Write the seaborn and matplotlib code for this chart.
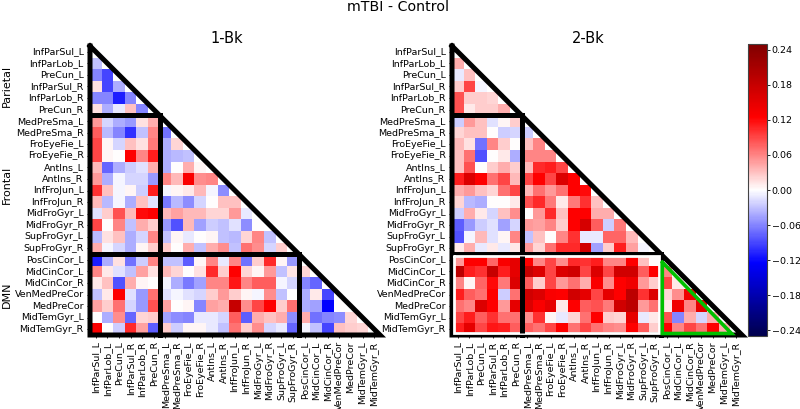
import numpy as np
import pandas as pd
import seaborn as sns
import matplotlib.pyplot as plt

# ROI names, in plotting order
labels = ['InfParSul_L', 'InfParLob_L', 'PreCun_L', 'InfParSul_R', 'InfParLob_R', 'PreCun_R',
          'MedPreSma_L', 'MedPreSma_R', 'FroEyeFie_L', 'FroEyeFie_R', 'AntIns_L', 'AntIns_R',
          'InfFroJun_L', 'InfFroJun_R', 'MidFroGyr_L', 'MidFroGyr_R', 'SupFroGyr_L', 'SupFroGyr_R',
          'PosCinCor_L', 'MidCinCor_L', 'MidCinCor_R', 'VenMedPreCor', 'MedPreCor', 'MidTemGyr_L', 'MidTemGyr_R']
networks = ['Parietal', 'Frontal', 'DMN']
network_sizes = [6, 12, 7]
cbar_ticks = [-0.24, -0.18, -0.12, -0.06, 0.0, 0.06, 0.12, 0.18, 0.24]

# lower triangle values (row 1 onwards)
bk1_rows = [
    [-.03],
    [-.06, -.09],
    [.015, -.09, -.04],
    [-.06, -.06, -.11, -.06],
    [.015, -.04, -.01, .03, -.06],
    [.05, -.02, -.04, -.05, .015, .04],
    [.08, -.035, -.06, -.10, -.03, .06, -.07],
    [.09, .005, -.02, .03, .015, .065, -.04, .02],
    [.09, .005, 0, .125, .06, .11, -.04, -.035, -.03],
    [.035, -.075, -.04, -.025, -.015, .04, -.04, 0, .04, .005],
    [.05, -.04, -.005, -.02, -.02, -.05, .06, .035, .13, .055, .06],
    [.10, .03, -.005, .005, -.025, .11, -.005, .005, .01, .035, -.005, -.055],
    [.035, -.035, -.005, -.04, .03, -.015, -.065, -.035, -.055, -.02, 0, .03, .03],
    [-.015, .025, .085, .035, .12, .125, .035, .045, .035, .035, .02, .02, .05, -.01],
    [.09, 0, .06, -.03, .04, .025, -.05, -.085, .035, -.045, -.025, -.03, -.015, -.055, 0],
    [-.035, .015, .03, -.04, -.02, .06, -.03, .005, -.01, 0, .005, -.03, -.035, .02, .06, -.03],
    [.04, -.005, -.02, -.04, .005, .025, .025, 0, .04, -.03, .04, .055, -.03, .07, .055, -.02, .025],
    [-.11, -.04, .015, -.07, -.025, .06, -.03, -.03, -.08, .005, .06, -.01, .06, -.07, .025, .105, .005, -.05],
    [.06, .01, -.015, -.03, .045, .015, .035, .02, 0, .015, .105, .025, .125, .02, .005, .05, -.03, .012, .02],
    [.01, .03, -.085, .04, .005, 0, -.005, -.04, -.065, -.045, .06, .06, .115, .06, .08, .08, -.005, -.02, -.06, -.075],
    [-.03, .01, .125, -.015, -.05, .07, -.015, -.005, -.015, -.02, .025, .05, .025, .005, -.005, .055, -.03, 0, -.04, .01, -.09],
    [.045, .025, .07, -.02, -.05, .085, .045, 0, .005, -.06, .045, .04, .18, .055, .09, .125, .025, .07, -.04, -.045, -.125, 0],
    [0, -.04, .055, -.075, .02, .025, -.045, -.055, -.06, -.01, -.01, -.02, .08, -.08, .04, .03, .04, -.055, .04, -.07, -.06, -.055, .02],
    [.13, 0, -.025, .105, .045, -.08, .025, -.025, .005, .005, -.01, -.03, .07, .025, .055, -.02, -.01, -.075, -.005, -.03, -.09, .03, .025, .02],
]

bk2_rows = [
    [.04],
    [-.01, .03],
    [.025, .09, -.005],
    [.085, .025, .025, .02],
    [.085, .01, .025, .025, .04],
    [-.025, .05, .03, -.015, .005, .025],
    [.02, .03, .03, 0, -.025, -.02, -.025],
    [.035, .015, -.07, .06, .025, 0, .03, .06],
    [.03, .07, -.085, 0, .01, -.04, .06, .06, .06],
    [.03, .085, 0, .025, .04, .025, .035, .105, .11, .09],
    [.11, .16, .125, .07, .09, .035, .09, .125, .09, .16, .125],
    [.04, .05, .03, .02, .07, .09, .035, .07, .05, .07, .125, .12],
    [.02, -.035, -.04, 0, 0, .01, .085, .105, .065, .01, .065, .10, .03],
    [-.025, .04, .01, -.02, .03, .055, 0, .05, .105, .03, .125, .125, .04, .04],
    [-.08, -.05, -.025, -.015, -.045, -.02, .05, .045, .06, .025, .125, .165, .08, -.025, .065],
    [-.085, -.005, .035, -.015, .005, .06, -.03, .03, 0, .06, .10, -.01, -.01, .075, .075, .035],
    [.01, .04, -.01, .01, -.01, .01, .05, .02, .07, .105, .105, .17, -.045, .025, .11, .045, -.005],
    [.05, .125, .125, .075, .13, .15, .125, .06, .09, .055, .105, .10, .11, .06, .06, .125, .03, 0],
    [.19, .11, .10, .18, .11, .15, .18, .16, .09, .16, .17, .09, .16, .09, .17, .17, .08, .125, .06],
    [.06, .005, .075, .12, .065, .16, .08, .025, .09, .05, .07, .04, .13, .055, .125, .14, .05, .025, .09, .01],
    [.11, .08, .07, .125, -.025, .07, .17, .16, .13, .125, .17, .15, .09, .15, .125, .19, .10, .16, .02, .055, .14],
    [.07, .06, .16, .125, .05, .15, .16, .13, .15, .01, .125, .08, .085, .065, .17, .19, .05, .07, .01, .14, .06, .15],
    [.09, .11, .08, .10, .07, .07, .055, .10, .005, -.01, .02, .07, .125, .025, .02, .15, -.01, .01, .085, -.06, .04, -.02, .04],
    [.11, .15, .09, .115, .11, .08, .08, .07, .09, .125, .07, .09, .07, .06, .055, .125, .08, .025, .125, .06, .09, .07, .125, .04],
]


def to_frame(rows):
    mat = np.full((len(labels), len(labels)), np.nan)
    for i, row in enumerate(rows):
        mat[i + 1, :len(row)] = row
    return pd.DataFrame(mat, index=labels, columns=labels)


sns.set_style('ticks', {'text.color': 'black', 'xtick.color': 'black', 'ytick.color': 'black'})
plt.rcParams['font.family'] = ['DejaVu Sans']

W, H = 800, 409
fig = plt.figure(figsize=(W / 100, H / 100), dpi=100)


def px_axes(x0, y0, x1, y1):
    return fig.add_axes([x0 / W, 1 - y1 / H, (x1 - x0) / W, (y1 - y0) / H])


ax1 = px_axes(90, 46, 380, 335)
ax2 = px_axes(452, 46, 742, 335)
cax = px_axes(748, 44, 767, 336)

LW = 3.6
edges = np.cumsum([0] + network_sizes)


def draw_sections(ax):
    n = edges[-1]
    kw = dict(color='black', lw=LW, clip_on=False, solid_capstyle='projecting', solid_joinstyle='miter', zorder=5)
    # outer triangle
    ax.plot([0, 0, n, 0], [0, n, n, 0], **kw)
    # lines splitting the networks
    for e in edges[1:-1]:
        ax.plot([0, e], [e, e], **kw)
        ax.plot([e, e], [e, n], **kw)


for ax, rows, name in [(ax1, bk1_rows, '1-Bk'), (ax2, bk2_rows, '2-Bk')]:
    sns.heatmap(to_frame(rows), ax=ax, cmap='seismic', vmin=-0.25, vmax=0.25, center=0,
                cbar=ax is ax2, cbar_ax=cax if ax is ax2 else None,
                xticklabels=True, yticklabels=True)
    ax.tick_params(axis='both', labelsize=6.8, length=2, width=0.6, pad=2.5)
    ax.tick_params(axis='x', labelrotation=90)
    ax.tick_params(axis='y', labelrotation=0)
    draw_sections(ax)
    ax.set_title(name, fontsize=10.5, x=0.47, y=1.0, pad=2)

# 2-Bk highlights: white box on DMN vs rest, green box inside DMN
d0, d1 = edges[2], edges[3]
inset = 0.13
ax2.plot([inset, d0 - inset, d0 - inset, inset, inset],
         [d0 + inset, d0 + inset, d1 - inset, d1 - inset, d0 + inset],
         color='white', lw=2.0, zorder=6, clip_on=False, solid_joinstyle='miter')
ax2.plot([edges[1], edges[1]], [d0 + inset, d1 - inset], color='black', lw=LW, zorder=7, solid_capstyle='butt')
ax2.plot([d0 + inset, d0 + inset, d1 - 0.9, d0 + inset], [d0 + 0.7, d1 - inset, d1 - inset, d0 + 0.7],
         color='#00c000', lw=2.6, zorder=6, clip_on=False, solid_joinstyle='miter')

# network names down the left side
label_rows = [3.45, 12, 21.5]
for name, m in zip(networks, label_rows):
    ax1.annotate(name, xy=(0, m), xycoords=('figure pixels', 'data'), xytext=(7, 0), textcoords='offset pixels',
                 rotation=90, ha='center', va='center', fontsize=8)

cbar = ax2.collections[0].colorbar
cbar.set_ticks(cbar_ticks)
cbar.ax.tick_params(labelsize=6.8, length=2, width=0.6, pad=1.5)
cbar.outline.set_visible(True)
cbar.outline.set_edgecolor('#444444')
cbar.outline.set_linewidth(0.8)

fig.text(398 / W, 1 - 7 / H, 'mTBI - Control', ha='center', va='center', fontsize=10.2)

fig.savefig('out.png', dpi=100)
